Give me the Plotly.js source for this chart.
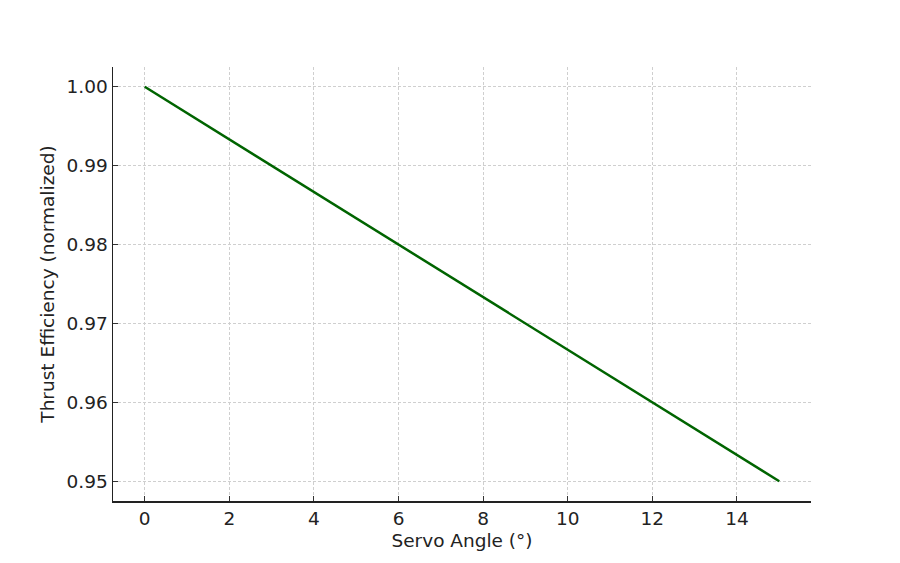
<!DOCTYPE html>
<html>
<head>
<meta charset="utf-8">
<script src="https://cdn.plot.ly/plotly-3.0.1.min.js"></script>
<style>
  html, body { margin: 0; padding: 0; background: #fff; }
  #chart { width: 900px; height: 563px; }
</style>
</head>
<body>
<div id="chart"></div>
<script>
// servo angle (deg) vs normalized thrust efficiency
const servoAngle = [0, 3, 6, 9, 12, 15];
const thrustEff = [1.00, 0.99, 0.98, 0.97, 0.96, 0.95];

const xTicks = [0, 2, 4, 6, 8, 10, 12, 14];
const yTicks = [0.95, 0.96, 0.97, 0.98, 0.99, 1.00];

const trace = {
    type: 'scatter',
    x: servoAngle,
    y: thrustEff,
    mode: 'lines',
    line: { color: '#006400', width: 2.5 },
    hoverinfo: 'skip',
};

const axisCommon = {
    showline: true,
    linecolor: '#222',
    linewidth: 1.5,
    mirror: false,
    ticks: 'inside',
    ticklen: 5,
    tickwidth: 1,
    tickcolor: '#333',
    showgrid: true,
    gridcolor: '#cfcfcf',
    griddash: '3px,2px',
    gridwidth: 1,
    zeroline: false,
    tickfont: { family: 'DejaVu Sans', size: 18.5, color: '#222' },
};

const layout = {
    width: 900,
    height: 563,
    margin: { l: 113, r: 89, t: 67, b: 62 },
    paper_bgcolor: '#fff',
    plot_bgcolor: '#fff',
    showlegend: false,
    xaxis: Object.assign({}, axisCommon, {
        range: [-0.75, 15.75],
        tickvals: xTicks,
        ticktext: xTicks.map(String),
        title: { text: 'Servo Angle (°)', font: { family: 'DejaVu Sans', size: 18.5, color: '#222' }, standoff: 6 },
    }),
    yaxis: Object.assign({}, axisCommon, {
        range: [0.9475, 1.0025],
        tickvals: yTicks,
        ticktext: yTicks.map(v => v.toFixed(2)),
        title: { text: 'Thrust Efficiency (normalized)', font: { family: 'DejaVu Sans', size: 18.5, color: '#222' }, standoff: 7 },
    }),
};

Plotly.newPlot('chart', [trace], layout, { staticPlot: true, displayModeBar: false });
</script>
</body>
</html>
